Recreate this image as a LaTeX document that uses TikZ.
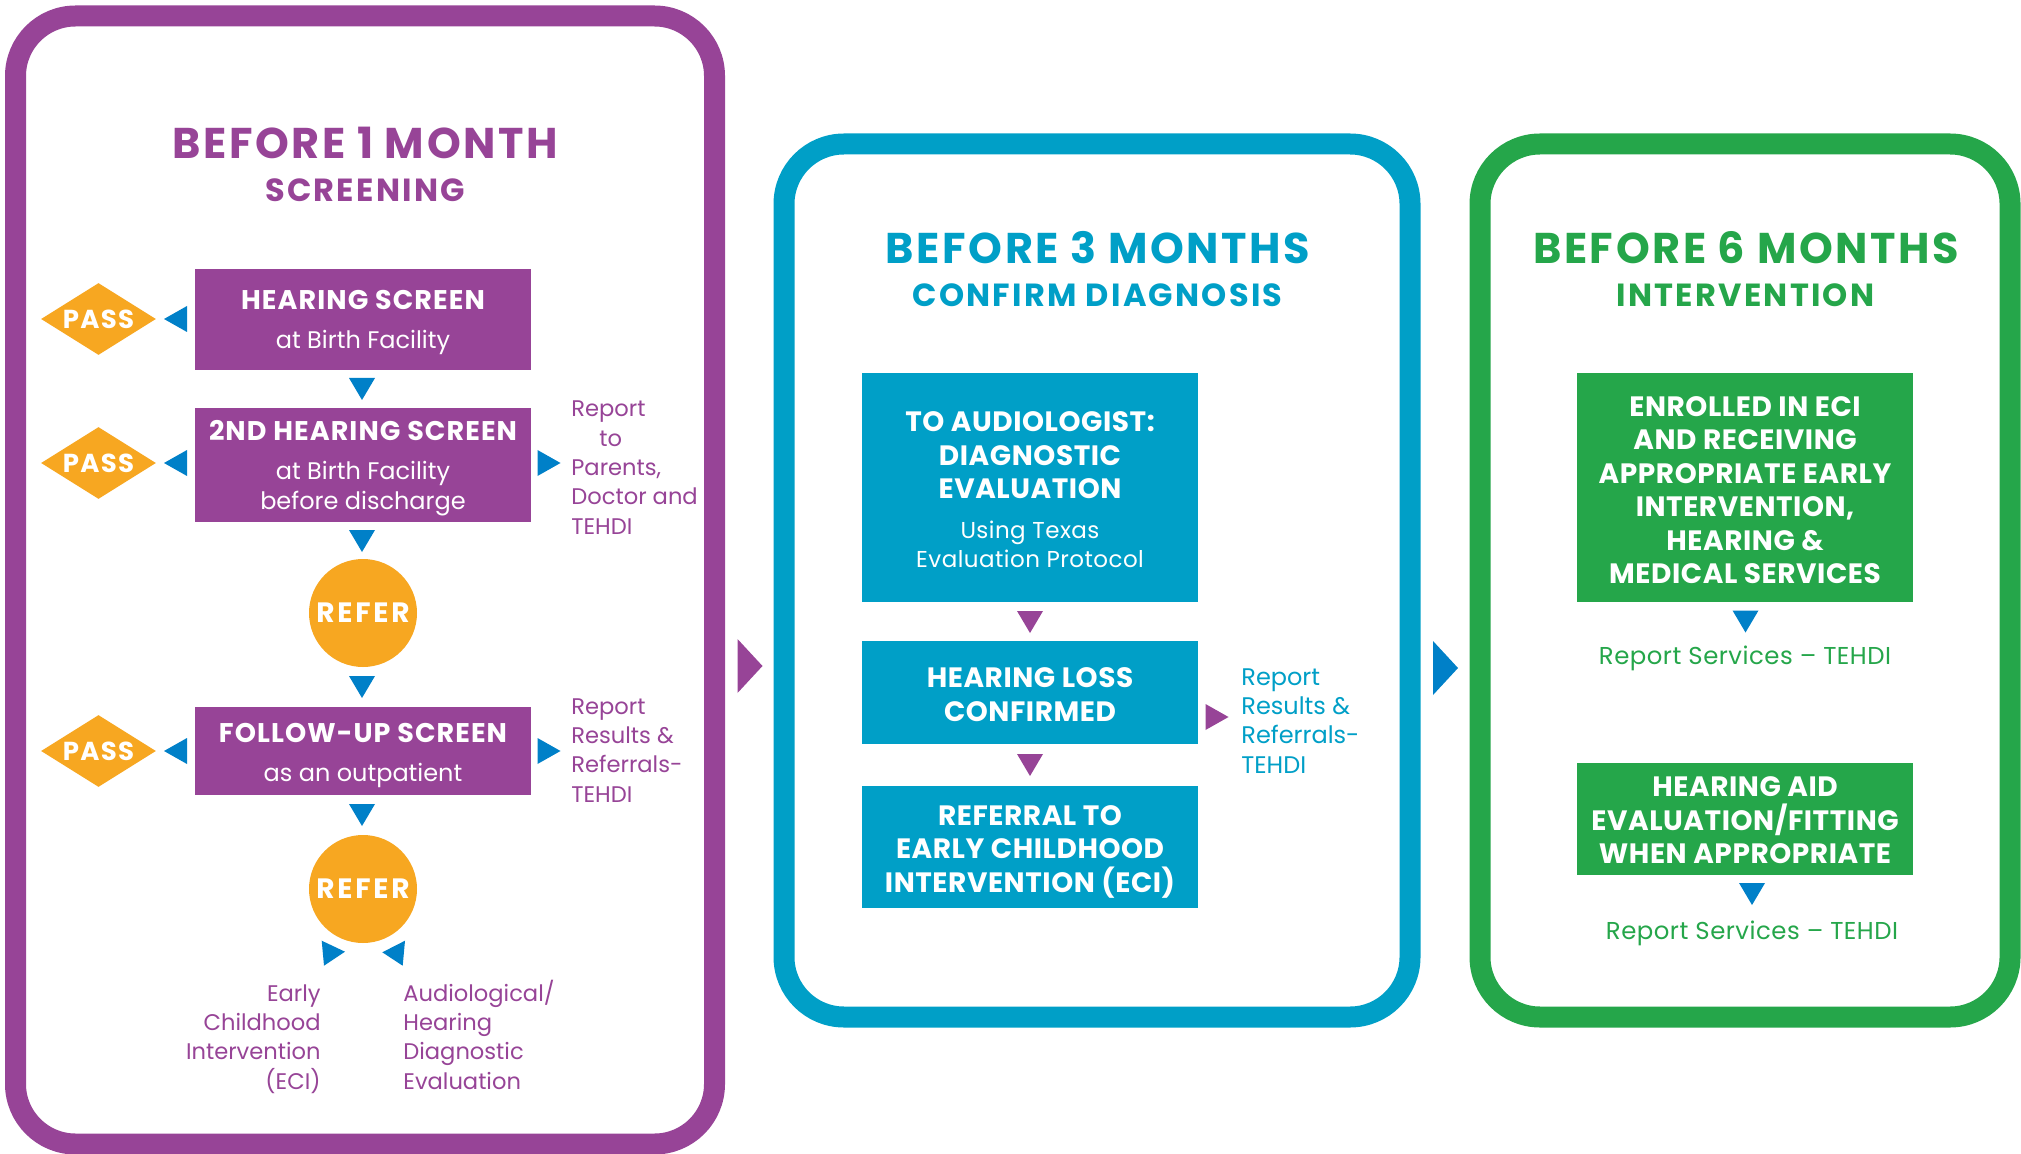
\documentclass[tikz,border=0pt]{standalone}
\usepackage{fontspec}
\setmainfont{Poppins}
\newfontfamily\lsA[LetterSpace=6]{Poppins}
\newfontfamily\lsB[LetterSpace=7]{Poppins}
\newfontfamily\lsC[LetterSpace=4]{Poppins}
\newfontfamily\lsD[LetterSpace=10]{Poppins}
\newfontfamily\lsE[LetterSpace=5]{Poppins}
\newfontfamily\lsF[LetterSpace=2]{Poppins}
\usetikzlibrary{shapes.geometric,calc}
\definecolor{purp}{HTML}{974497}
\definecolor{cblue}{HTML}{009FC7}
\definecolor{cgreen}{HTML}{25A64A}
\definecolor{corange}{HTML}{F7A721}
\definecolor{arrblue}{HTML}{0080C8}
\newcommand\fs[2]{\fontsize{#1}{#2}\selectfont}
\tikzset{
  frame/.style={rounded corners=30pt, line width=10.5pt, fill=white, inner sep=0pt},
  boxbase/.style={minimum width=168pt, inner sep=0pt},
  pbox/.style={boxbase, fill=purp},
  bbox/.style={boxbase, fill=cblue},
  gbox/.style={boxbase, fill=cgreen},
  wtxt/.style={text=white, align=center, anchor=base, inner sep=0pt},
  p1txt/.style={wtxt, font=\fs{12}{19.5}},
  wide/.style={wtxt, font=\lsF\bfseries\fs{14}{16.75}},
  ttl/.style={anchor=base, inner sep=0pt, font=\lsA\bfseries\fs{21.5}{24}},
  subttl/.style={anchor=base, inner sep=0pt, font=\lsB\bfseries\fs{16}{18}},
  side/.style={inner sep=0pt, font=\fs{11.3}{14.65}},
  pass/.style={diamond, aspect=1.6, fill=corange, minimum width=57.5pt, minimum height=36pt, inner sep=0pt, text=white, font=\lsE\bfseries\fs{13}{15}},
  refer/.style={circle, fill=corange, minimum size=54pt, inner sep=0pt, text=white, font=\lsD\bfseries\fs{14}{16}},
  pics/tdown/.style={code={\fill[#1] (-13,-11) -- (13,-11) -- (0,11) -- cycle;}},
  pics/tleft/.style={code={\fill[#1] (11.5,-13) -- (11.5,13) -- (-11.5,0) -- cycle;}},
  pics/tright/.style={code={\fill[#1] (-11.5,-13) -- (-11.5,13) -- (11.5,0) -- cycle;}},
  pics/tbig/.style={code={\fill[#1] (-12.5,-27) -- (-12.5,27) -- (12.5,0) -- cycle;}},
  pics/trR/.style={code={\fill[#1] (-11.3,-12.3) -- (12,-1.3) -- (-9,12.7) -- cycle;}},
  pics/trL/.style={code={\fill[#1] (11,-12.3) -- (-11.7,-0.7) -- (8.7,12.7) -- cycle;}},
}
\newcommand\bhead[1]{{\lsC\bfseries\fs{13.5}{19.5}#1}}
\begin{document}
\begin{tikzpicture}[x=0.5pt,y=-0.5pt]
\useasboundingbox (0,0) rectangle (2021,1154);
% frames
\node[frame, draw=purp, minimum width=349.5pt, minimum height=564pt] (p1) at (365,580) {};
\node[frame, draw=cblue, minimum width=313pt, minimum height=436.5pt] (p2) at (1097,580.5) {};
\node[frame, draw=cgreen, minimum width=265pt, minimum height=436.5pt] (p3) at (1745,580.5) {};
\pic at (750,666) {tbig=purp};
\pic at (1445.5,668) {tbig=arrblue};

% ---------- panel 1 ----------
\node[ttl, text=purp] (t1) at (365,159) {BEFORE 1 MONTH};
\node[subttl, text=purp] (s1) at (365,202) {SCREENING};

\node[pbox, minimum height=50.5pt] (hs) at (363,319.5) {};
\node[p1txt] (hsT) at (363,349) {\bhead{HEARING SCREEN}\\at Birth Facility};
\node[pass] (pa1) at (98.5,319) {PASS};
\pic at (175.5,319) {tleft=arrblue};
\pic at (362,389) {tdown=arrblue};

\node[pbox, minimum height=57pt] (hs2) at (363,465) {};
\node[p1txt] (hs2T) at (363,509) {\bhead{2ND HEARING SCREEN}\\at Birth Facility\\[-5pt]before discharge};
\node[pass] (pa2) at (98.5,463) {PASS};
\pic at (175.5,463) {tleft=arrblue};
\pic at (549,463) {tright=arrblue};
\node[side, text=purp, anchor=base west, align=left] (rep1) at (571,534) {Report\\\hspace*{14pt}to\\Parents,\\Doctor and\\TEHDI};
\pic at (362,541) {tdown=arrblue};

\node[refer] (ref1) at (363,613) {REFER};
\pic at (362,687) {tdown=arrblue};

\node[pbox, minimum height=44pt] (fu) at (363,751) {};
\node[p1txt] (fuT) at (363,781) {\bhead{FOLLOW-UP SCREEN}\\as an outpatient};
\node[pass] (pa3) at (98.5,751) {PASS};
\pic at (175.5,751) {tleft=arrblue};
\pic at (549,751) {tright=arrblue};
\node[side, text=purp, anchor=base west, align=left] (rep2) at (571,802) {Report\\Results \&\\Referrals-\\TEHDI};
\pic at (362,815) {tdown=arrblue};

\node[refer] (ref2) at (363,889) {REFER};
\pic at (333,953) {trR=arrblue};
\pic at (394,953) {trL=arrblue};
\node[side, text=purp, anchor=base east, align=right] (eci) at (321,1089) {Early\\Childhood\\Intervention\\(ECI)};
\node[side, text=purp, anchor=base west, align=left] (aud) at (403,1089) {Audiological/\\Hearing\\Diagnostic\\Evaluation};

% ---------- panel 2 ----------
\node[ttl, text=cblue] (t2) at (1098,264) {BEFORE 3 MONTHS};
\node[subttl, text=cblue] (s2) at (1097.5,307) {CONFIRM DIAGNOSIS};

\node[bbox, minimum height=114.25pt] (a1) at (1030,487.75) {};
\node[wide] (a1T) at (1030,567) {TO AUDIOLOGIST:\\DIAGNOSTIC\\EVALUATION\\[3pt]{\mdseries\fs{11.5}{16.75}Using Texas}\\[-2.25pt]{\mdseries\fs{11.5}{16.75}Evaluation Protocol}};
\pic at (1030,622) {tdown=purp};
\node[bbox, minimum height=51.5pt] (a2) at (1030,692.5) {};
\node[wide] (a2T) at (1030,721) {HEARING LOSS\\CONFIRMED};
\pic at (1030,765) {tdown=purp};
\node[bbox, minimum height=60.75pt] (a3) at (1030,846.75) {};
\node[wide] (a3T) at (1030,892) {REFERRAL TO\\EARLY CHILDHOOD\\INTERVENTION (ECI)};
\pic at (1217,717) {tright=purp};
\node[side, text=cblue, anchor=base west, align=left, font=\fs{12}{14.65}] (rep3) at (1241,773) {Report\\Results \&\\Referrals-\\TEHDI};

% ---------- panel 3 ----------
\node[ttl, text=cgreen] (t3) at (1746,264) {BEFORE 6 MONTHS};
\node[subttl, text=cgreen] (s3) at (1745.5,307) {INTERVENTION};

\node[gbox, minimum height=114.25pt] (e1) at (1745,487.75) {};
\node[wide] (e1T) at (1745,583.6) {ENROLLED IN ECI\\AND RECEIVING\\APPROPRIATE EARLY\\INTERVENTION,\\HEARING \&\\MEDICAL SERVICES};
\pic at (1745.5,621.5) {tdown=arrblue};
\node[side, text=cgreen, anchor=base, font=\lsF\fs{12.2}{14.65}] (rs1) at (1745,664.6) {Report Services – TEHDI};

\node[gbox, minimum height=56pt] (e2) at (1745,819) {};
\node[wide] (e2T) at (1745,863.6) {HEARING AID\\EVALUATION/FITTING\\WHEN APPROPRIATE};
\pic at (1752,894) {tdown=arrblue};
\node[side, text=cgreen, anchor=base, font=\lsF\fs{12.2}{14.65}] (rs2) at (1752,939) {Report Services – TEHDI};
\end{tikzpicture}
\end{document}
